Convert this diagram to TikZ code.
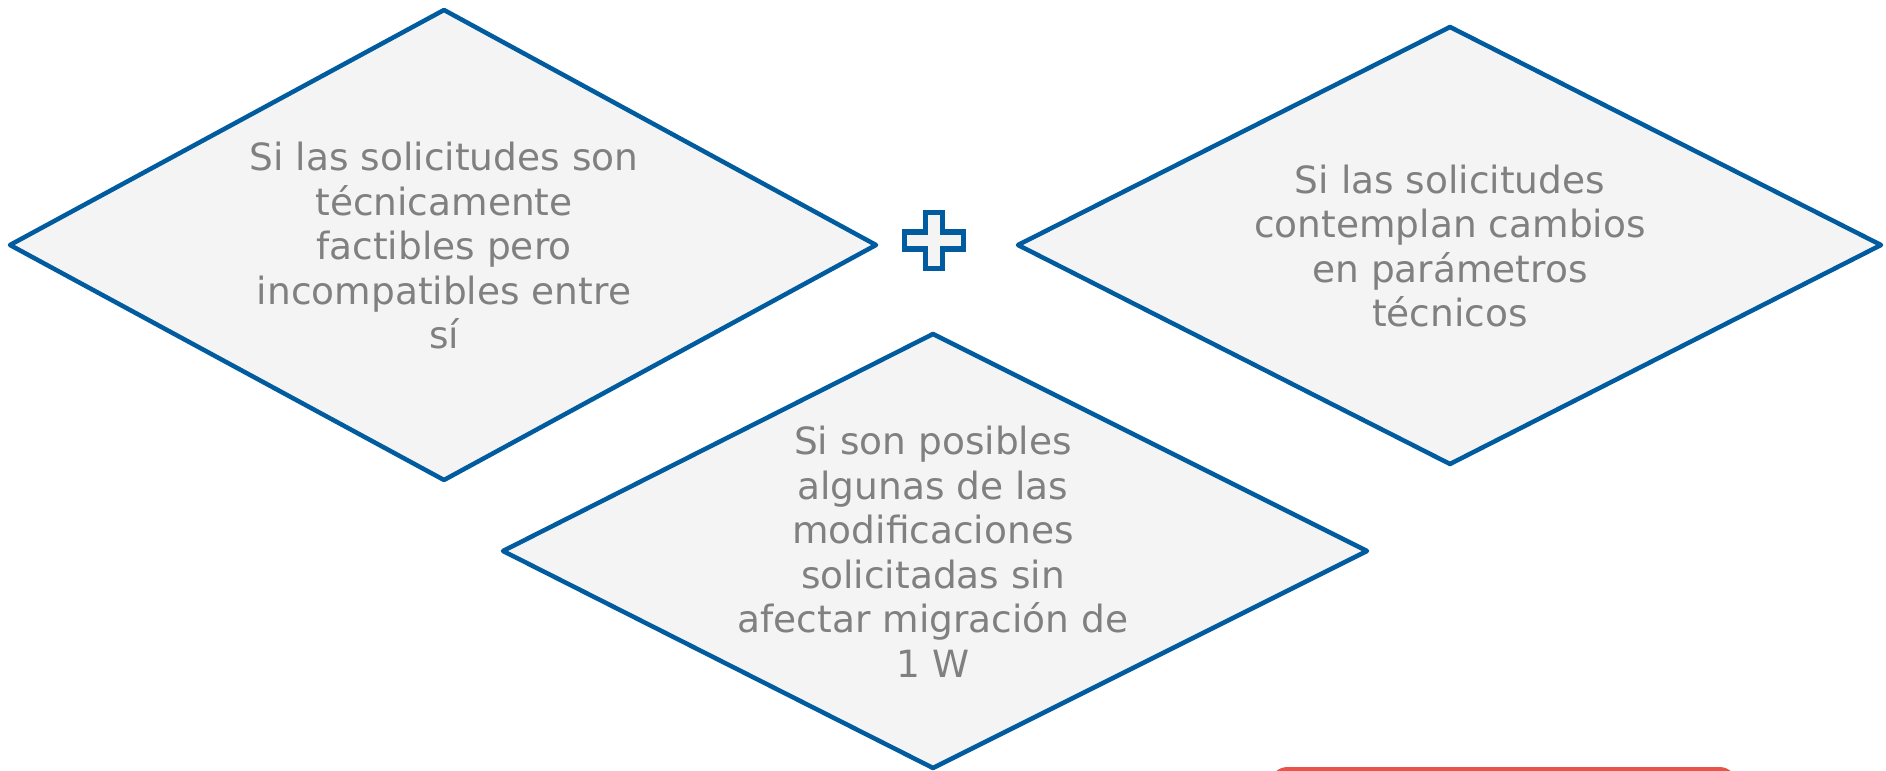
\documentclass[tikz,border=0pt]{standalone}
\usepackage{fontspec}
\setmainfont{DejaVu Sans}
\definecolor{dblue}{RGB}{0,92,158}
\definecolor{dfill}{RGB}{244,244,244}
\definecolor{dtext}{RGB}{128,128,128}
\definecolor{dred}{RGB}{234,84,72}
\begin{document}
\begin{tikzpicture}[x=0.4pt,y=-0.4pt,
  dshape/.style={draw=dblue,fill=dfill,line width=1.8pt,line join=round},
  dlabel/.style={text=dtext,align=center,font=\fontsize{15pt}{17.8pt}\selectfont,inner sep=0pt},
  plusshape/.style={draw=dblue,fill=dfill,line width=2.2pt,line join=miter}]
\useasboundingbox (0,0) rectangle (1886,771);
\clip (0,0) rectangle (1886,771);
% diamond 1
\coordinate (a1) at (444,10);
\coordinate (a2) at (876,245);
\coordinate (a3) at (444,480);
\coordinate (a4) at (10,245);
\draw[dshape] (a1) -- (a2) -- (a3) -- (a4) -- cycle;
\node[dlabel] (t1) at (444,246) {Si las solicitudes son\\técnicamente\\factibles pero\\incompatibles entre\\sí};
% diamond 2
\coordinate (b1) at (1450,27);
\coordinate (b2) at (1881,245);
\coordinate (b3) at (1450,464);
\coordinate (b4) at (1018,245);
\draw[dshape] (b1) -- (b2) -- (b3) -- (b4) -- cycle;
\node[dlabel] (t2) at (1450,246) {Si las solicitudes\\contemplan cambios\\en parámetros\\técnicos};
% diamond 3
\coordinate (c1) at (933,334);
\coordinate (c2) at (1367,551);
\coordinate (c3) at (933,768);
\coordinate (c4) at (503,551);
\draw[dshape] (c1) -- (c2) -- (c3) -- (c4) -- cycle;
\node[dlabel] (t3) at (933,552) {Si son posibles\\algunas de las\\modificaciones\\solicitadas sin\\afectar migración de\\1 W};
% plus sign
\coordinate (p) at (934,240.5);
\draw[plusshape] ([shift={(-8.5,-28)}]p) -- ([shift={(8.5,-28)}]p) -- ([shift={(8.5,-8.5)}]p)
  -- ([shift={(29.5,-8.5)}]p) -- ([shift={(29.5,8.5)}]p) -- ([shift={(8.5,8.5)}]p)
  -- ([shift={(8.5,28)}]p) -- ([shift={(-8.5,28)}]p) -- ([shift={(-8.5,8.5)}]p)
  -- ([shift={(-29.5,8.5)}]p) -- ([shift={(-29.5,-8.5)}]p) -- ([shift={(-8.5,-8.5)}]p) -- cycle;
% red box at bottom right
\fill[dred,rounded corners=7pt] (1270,767) rectangle (1737,830);
\end{tikzpicture}
\end{document}
